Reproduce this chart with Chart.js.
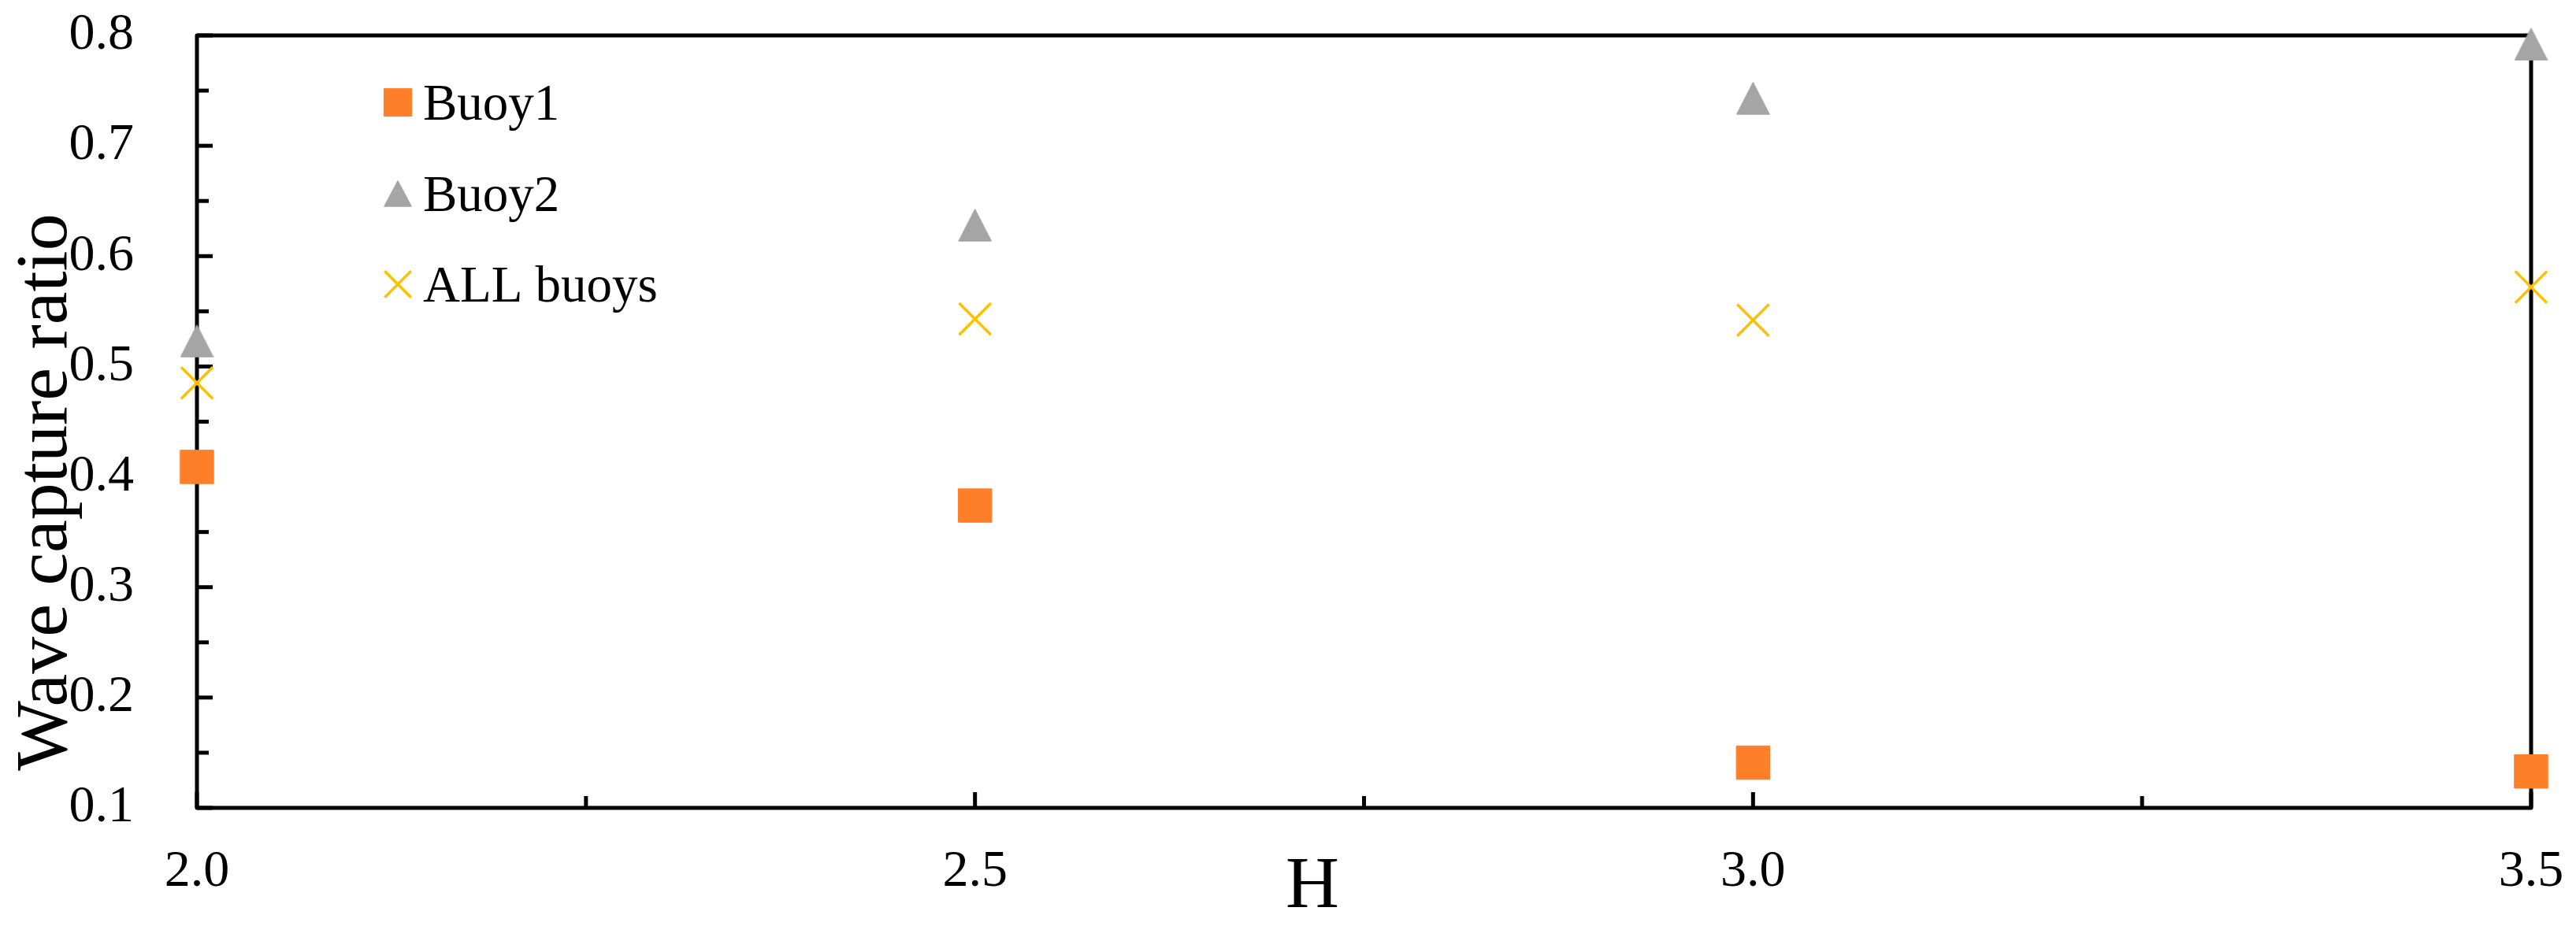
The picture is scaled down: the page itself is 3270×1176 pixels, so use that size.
<!DOCTYPE html>
<html>
<head>
<meta charset="utf-8">
<title>Wave capture ratio</title>
<script src="https://cdn.jsdelivr.net/npm/chart.js@4"></script>
<style>
    body { margin: 0; background: #ffffff; }
    #wrap { width: 3270px; height: 1176px; }
</style>
</head>
<body>
<div id="wrap"><canvas id="captureChart" width="3270" height="1176"></canvas></div>
<script>
// Chart data
const heights = [2.0, 2.5, 3.0, 3.5];
const buoy1 = [0.409, 0.374, 0.141, 0.133];
const buoy2 = [0.523, 0.628, 0.743, 0.792];
const allBuoys = [0.485, 0.543, 0.542, 0.572];
const xTicks = [2.0, 2.5, 3.0, 3.5];
const yTicks = [0.1, 0.2, 0.3, 0.4, 0.5, 0.6, 0.7, 0.8];

const serif = '"Liberation Serif", "Times New Roman", serif';

// Excel-like triangle marker (a bit taller than equilateral)
function makeTriangle(w, h, color) {
    const c = document.createElement('canvas');
    c.width = w;
    c.height = h;
    const g = c.getContext('2d');
    g.fillStyle = color;
    g.strokeStyle = color;
    g.lineJoin = 'round';
    g.lineWidth = 1.5;
    g.beginPath();
    g.moveTo(w / 2, 1);
    g.lineTo(w - 1, h - 1);
    g.lineTo(1, h - 1);
    g.closePath();
    g.fill();
    g.stroke();
    return c;
}
const triangle = makeTriangle(43, 42, '#A5A5A5');
const legendTriangle = makeTriangle(36, 34, '#A5A5A5');

function toPoints(values) {
    return heights.map((h, i) => ({x: h, y: values[i]}));
}

// no extra room for overhanging tick labels, the plot box is fixed
function noPadding(scale) {
    scale.paddingTop = 0;
    scale.paddingBottom = 0;
    scale.paddingLeft = 0;
    scale.paddingRight = 0;
}

// Frame, inward tick marks, axis titles and legend
const decorations = {
    id: 'decorations',
    beforeDatasetsDraw(chart) {
        const ctx = chart.ctx;
        const a = chart.chartArea;
        const xs = chart.scales.x;
        const ys = chart.scales.y;
        ctx.save();
        ctx.strokeStyle = '#000000';
        ctx.lineWidth = 5;
        ctx.lineJoin = 'round';
        ctx.strokeRect(a.left, a.top, a.right - a.left, a.bottom - a.top);

        ctx.lineCap = 'butt';
        yTicks.forEach((v, i) => {
            const py = ys.getPixelForValue(v);
            ctx.beginPath();
            ctx.moveTo(a.left, py);
            ctx.lineTo(a.left + 20, py);
            ctx.stroke();
            if (i < yTicks.length - 1) {
                const my = ys.getPixelForValue((v + yTicks[i + 1]) / 2);
                ctx.beginPath();
                ctx.moveTo(a.left, my);
                ctx.lineTo(a.left + 15, my);
                ctx.stroke();
            }
        });
        xTicks.forEach((v, i) => {
            const px = xs.getPixelForValue(v);
            ctx.beginPath();
            ctx.moveTo(px, a.bottom);
            ctx.lineTo(px, a.bottom - 20);
            ctx.stroke();
            if (i < xTicks.length - 1) {
                const mx = xs.getPixelForValue((v + xTicks[i + 1]) / 2);
                ctx.beginPath();
                ctx.moveTo(mx, a.bottom);
                ctx.lineTo(mx, a.bottom - 15);
                ctx.stroke();
            }
        });
        ctx.restore();
    },
    afterDraw(chart) {
        const ctx = chart.ctx;
        const a = chart.chartArea;
        ctx.save();
        ctx.fillStyle = '#000000';

        // axis titles
        ctx.font = '94px ' + serif;
        ctx.textAlign = 'center';
        ctx.textBaseline = 'alphabetic';
        ctx.fillText('H', 1666, 1152);

        ctx.translate(84, 625);
        ctx.rotate(-Math.PI / 2);
        ctx.fillText('Wave capture ratio', 0, 0);
        ctx.restore();

        // legend inside the plot
        ctx.save();
        const lx = a.left + 255;
        const rows = [a.top + 85, a.top + 201, a.top + 316];
        chart.data.datasets.forEach((ds, i) => {
            const y = rows[i];
            ctx.fillStyle = ds.backgroundColor;
            ctx.strokeStyle = ds.borderColor;
            ctx.lineWidth = ds.borderWidth;
            if (ds.pointStyle instanceof HTMLCanvasElement) {
                ctx.drawImage(legendTriangle, lx - legendTriangle.width / 2, y - legendTriangle.height / 2);
            } else if (Chart.helpers && Chart.helpers.drawPoint) {
                Chart.helpers.drawPoint(ctx, {
                    pointStyle: ds.pointStyle,
                    radius: ds.pointRadius * 0.83,
                    borderWidth: ds.borderWidth,
                    rotation: 0
                }, lx, y);
            }
            ctx.fillStyle = '#000000';
            ctx.font = '65px ' + serif;
            ctx.textAlign = 'left';
            ctx.textBaseline = 'alphabetic';
            ctx.fillText(ds.label, lx + 32, y + 22);
        });
        ctx.restore();
    }
};

const ctx = document.getElementById('captureChart').getContext('2d');
const captureChart = new Chart(ctx, {
    type: 'scatter',
    data: {
        datasets: [{
            label: 'Buoy1',
            data: toPoints(buoy1),
            pointStyle: 'rect',
            pointRadius: 30,
            backgroundColor: '#FE7F2A',
            borderColor: '#FE7F2A',
            borderWidth: 1
        }, {
            label: 'Buoy2',
            data: toPoints(buoy2),
            pointStyle: triangle,
            pointRadius: 22,
            backgroundColor: '#A5A5A5',
            borderColor: '#A5A5A5',
            borderWidth: 1
        }, {
            label: 'ALL buoys',
            data: toPoints(allBuoys),
            pointStyle: 'crossRot',
            pointRadius: 28.5,
            backgroundColor: '#FFC000',
            borderColor: '#FFC000',
            borderWidth: 3.5
        }]
    },
    options: {
        responsive: false,
        animation: false,
        events: [],
        clip: false,
        layout: {
            padding: {left: 0, top: 45, right: 57, bottom: 0}
        },
        plugins: {
            legend: {display: false},
            tooltip: {enabled: false}
        },
        scales: {
            x: {
                type: 'linear',
                min: 2.0,
                max: 3.5,
                afterBuildTicks: (scale) => { scale.ticks = xTicks.map(v => ({value: v})); },
                afterFit: (scale) => { scale.height = 150; noPadding(scale); },
                grid: {display: false, drawTicks: false},
                border: {display: false},
                ticks: {
                    padding: 42,
                    color: '#000000',
                    font: {family: serif, size: 66},
                    maxRotation: 0,
                    callback: (v) => Number(v).toFixed(1)
                }
            },
            y: {
                min: 0.1,
                max: 0.8,
                afterBuildTicks: (scale) => { scale.ticks = yTicks.map(v => ({value: v})); },
                afterFit: (scale) => { scale.width = 250; noPadding(scale); },
                grid: {display: false, drawTicks: false},
                border: {display: false},
                ticks: {
                    padding: 80,
                    color: '#000000',
                    font: {family: serif, size: 66},
                    callback: (v) => Number(v).toFixed(1)
                }
            }
        }
    },
    plugins: [decorations]
});
</script>
</body>
</html>
